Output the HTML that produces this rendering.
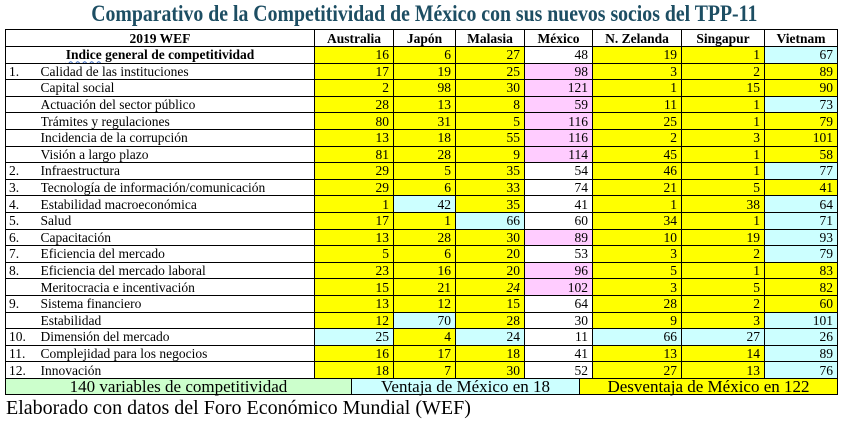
<!DOCTYPE html>
<html><head><meta charset="utf-8"><style>
body{margin:0;width:848px;height:423px;background:#fff;position:relative;overflow:hidden;font-family:"Liberation Serif",serif;}
.title{position:absolute;left:0;top:1px;width:848px;text-align:center;font-weight:bold;font-size:23px;color:#1d4e63;white-space:nowrap;font-family:"Liberation Serif",serif;}
.title span{display:inline-block;transform:scaleX(0.86);transform-origin:center;}
table{position:absolute;left:5px;top:29px;border-collapse:collapse;table-layout:fixed;font-size:13.5px;}
td{border:1px solid #000;padding:0 4px;height:15.6px;line-height:15px;text-align:right;white-space:nowrap;overflow:hidden;}
tr.h td{font-weight:bold;text-align:center;height:16px;}
td.n{border-right:none;text-align:left;padding-left:3px;}
td.l{border-left:none;text-align:left;padding-left:0;}
.y{background:#ffff00}.c{background:#ccffff}.p{background:#ffccff}
.sum{position:absolute;top:378px;height:17px;border:1px solid #000;font-size:17px;line-height:16px;text-align:center;box-sizing:border-box;white-space:nowrap;}
.foot{position:absolute;left:6px;top:397px;font-size:20px;}
</style></head><body>
<div class="title"><span>Comparativo de la Competitividad de México con sus nuevos socios del TPP-11</span></div>
<table>
<colgroup><col style="width:35px"><col style="width:274px"><col style="width:79px"><col style="width:62px"><col style="width:69px"><col style="width:68px"><col style="width:89px"><col style="width:83px"><col style="width:73px"></colgroup>
<tr class="h"><td colspan="2">2019 WEF</td><td>Australia</td><td>Japón</td><td>Malasia</td><td>México</td><td>N. Zelanda</td><td>Singapur</td><td>Vietnam</td></tr>
<tr><td colspan="2" style="text-align:center;font-weight:bold"><span style="text-decoration:underline wavy #4472c4;text-decoration-thickness:1px">Indice</span> general de competitividad</td><td class="y">16</td><td class="y">6</td><td class="y">27</td><td>48</td><td class="y">19</td><td class="y">1</td><td class="c">67</td></tr>
<tr><td class="n">1.</td><td class="l">Calidad de las instituciones</td><td class="y">17</td><td class="y">19</td><td class="y">25</td><td class="p">98</td><td class="y">3</td><td class="y">2</td><td class="y">89</td></tr>
<tr><td class="n"></td><td class="l">Capital social</td><td class="y">2</td><td class="y">98</td><td class="y">30</td><td class="p">121</td><td class="y">1</td><td class="y">15</td><td class="y">90</td></tr>
<tr><td class="n"></td><td class="l">Actuación del sector público</td><td class="y">28</td><td class="y">13</td><td class="y">8</td><td class="p">59</td><td class="y">11</td><td class="y">1</td><td class="c">73</td></tr>
<tr><td class="n"></td><td class="l">Trámites y regulaciones</td><td class="y">80</td><td class="y">31</td><td class="y">5</td><td class="p">116</td><td class="y">25</td><td class="y">1</td><td class="y">79</td></tr>
<tr><td class="n"></td><td class="l">Incidencia de la corrupción</td><td class="y">13</td><td class="y">18</td><td class="y">55</td><td class="p">116</td><td class="y">2</td><td class="y">3</td><td class="y">101</td></tr>
<tr><td class="n"></td><td class="l">Visión a largo plazo</td><td class="y">81</td><td class="y">28</td><td class="y">9</td><td class="p">114</td><td class="y">45</td><td class="y">1</td><td class="y">58</td></tr>
<tr><td class="n">2.</td><td class="l">Infraestructura</td><td class="y">29</td><td class="y">5</td><td class="y">35</td><td>54</td><td class="y">46</td><td class="y">1</td><td class="c">77</td></tr>
<tr><td class="n">3.</td><td class="l">Tecnología de información/comunicación</td><td class="y">29</td><td class="y">6</td><td class="y">33</td><td>74</td><td class="y">21</td><td class="y">5</td><td class="y">41</td></tr>
<tr><td class="n">4.</td><td class="l">Estabilidad macroeconómica</td><td class="y">1</td><td class="c">42</td><td class="y">35</td><td>41</td><td class="y">1</td><td class="y">38</td><td class="c">64</td></tr>
<tr><td class="n">5.</td><td class="l">Salud</td><td class="y">17</td><td class="y">1</td><td class="c">66</td><td>60</td><td class="y">34</td><td class="y">1</td><td class="c">71</td></tr>
<tr><td class="n">6.</td><td class="l">Capacitación</td><td class="y">13</td><td class="y">28</td><td class="y">30</td><td class="p">89</td><td class="y">10</td><td class="y">19</td><td class="c">93</td></tr>
<tr><td class="n">7.</td><td class="l">Eficiencia del mercado</td><td class="y">5</td><td class="y">6</td><td class="y">20</td><td>53</td><td class="y">3</td><td class="y">2</td><td class="c">79</td></tr>
<tr><td class="n">8.</td><td class="l">Eficiencia del mercado laboral</td><td class="y">23</td><td class="y">16</td><td class="y">20</td><td class="p">96</td><td class="y">5</td><td class="y">1</td><td class="y">83</td></tr>
<tr><td class="n"></td><td class="l">Meritocracia e incentivación</td><td class="y">15</td><td class="y">21</td><td class="y"><i>24</i></td><td class="p">102</td><td class="y">3</td><td class="y">5</td><td class="y">82</td></tr>
<tr><td class="n">9.</td><td class="l">Sistema financiero</td><td class="y">13</td><td class="y">12</td><td class="y">15</td><td>64</td><td class="y">28</td><td class="y">2</td><td class="y">60</td></tr>
<tr><td class="n"></td><td class="l">Estabilidad</td><td class="y">12</td><td class="c">70</td><td class="y">28</td><td>30</td><td class="y">9</td><td class="y">3</td><td class="c">101</td></tr>
<tr><td class="n">10.</td><td class="l">Dimensión del mercado</td><td class="c">25</td><td class="y">4</td><td class="c">24</td><td>11</td><td class="c">66</td><td class="c">27</td><td class="c">26</td></tr>
<tr><td class="n">11.</td><td class="l">Complejidad para los negocios</td><td class="y">16</td><td class="y">17</td><td class="y">18</td><td>41</td><td class="y">13</td><td class="y">14</td><td class="c">89</td></tr>
<tr><td class="n">12.</td><td class="l">Innovación</td><td class="y">18</td><td class="y">7</td><td class="y">30</td><td>52</td><td class="y">27</td><td class="y">13</td><td class="c">76</td></tr>
</table>
<div class="sum" style="left:5px;width:347px;background:#ccffcc">140 variables de competitividad</div>
<div class="sum" style="left:351px;width:229px;background:#ccffff">Ventaja de México en 18</div>
<div class="sum" style="left:579px;width:259px;background:#ffff00">Desventaja de México en 122</div>
<div class="foot">Elaborado con datos del Foro Económico Mundial (WEF)</div>
</body></html>
